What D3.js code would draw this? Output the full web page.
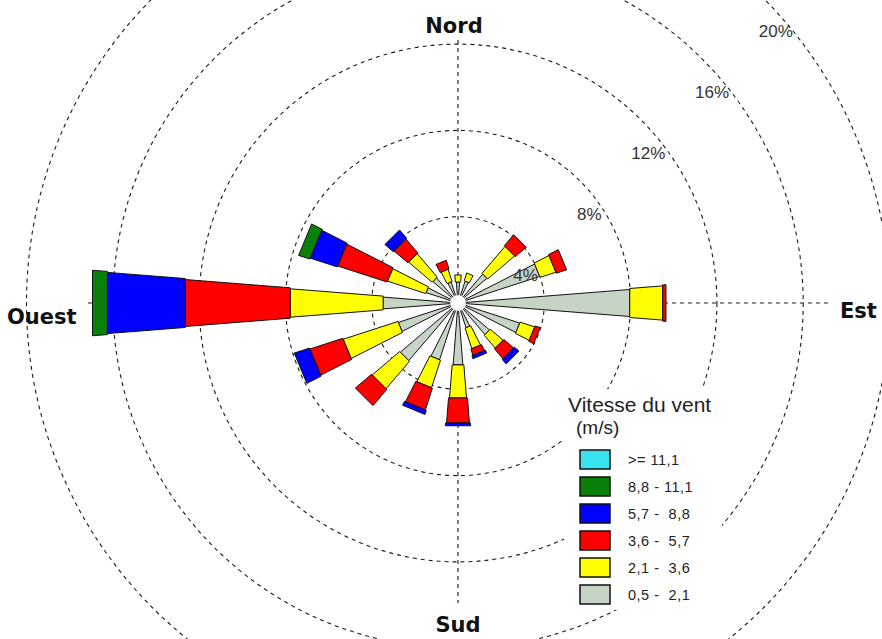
<!DOCTYPE html>
<html>
<head>
<meta charset="utf-8">
<script src="https://cdn.jsdelivr.net/npm/d3@7"></script>
<style>
  html, body { margin: 0; padding: 0; background: #fff; }
  svg { display: block; }
</style>
</head>
<body>
<svg id="rose" width="882" height="639"></svg>
<script>
// Wind directions, clockwise from north
const directions = ["N","NNE","NE","ENE","E","ESE","SE","SSE","S","SSW","SW","WSW","W","WNW","NW","NNW"];

// Frequency (%) per speed class, one value per direction
const speed05to21  = [0.97, 1.06, 1.76, 3.97, 7.96, 3.00, 1.92, 1.20, 2.87, 2.76, 3.50, 2.90, 3.47, 1.55, 1.53, 1.02];
const speed21to36  = [0.33, 0.38, 1.64, 0.77, 1.53, 0.71, 0.78, 1.00, 1.53, 1.34, 1.67, 2.66, 4.31, 1.86, 1.43, 0.60];
const speed36to57  = [0.00, 0.00, 0.66, 0.50, 0.15, 0.25, 0.60, 0.30, 1.16, 1.06, 0.98, 1.60, 4.86, 2.40, 0.84, 0.42];
const speed57to88  = [0.00, 0.00, 0.00, 0.00, 0.00, 0.00, 0.27, 0.15, 0.13, 0.20, 0.00, 0.74, 3.61, 1.31, 0.51, 0.00];
const speed88to111 = [0.00, 0.00, 0.00, 0.00, 0.00, 0.00, 0.00, 0.00, 0.00, 0.00, 0.00, 0.00, 0.69, 0.55, 0.00, 0.00];
const speedOver111 = [0.00, 0.00, 0.00, 0.00, 0.00, 0.00, 0.00, 0.00, 0.00, 0.00, 0.00, 0.00, 0.00, 0.00, 0.00, 0.00];

// Speed classes from calm to strong, with legend labels
const speedLabels = ["0,5 -  2,1", "2,1 -  3,6", "3,6 -  5,7", "5,7 -  8,8", "8,8 - 11,1", ">= 11,1"];
const speedSeries = [speed05to21, speed21to36, speed36to57, speed57to88, speed88to111, speedOver111];
const speedColors = ["#c6d4c6", "#ffff00", "#ff0000", "#0000ff", "#0a800a", "#38e2ee"];

// Ring values (%)
const ringTicks = [4, 8, 12, 16, 20];

// Cardinal labels
const cardinals = [
  { name: "Nord",  x: 454, y: 33 , anchor: "middle" },
  { name: "Est",   x: 840, y: 318, anchor: "start" },
  { name: "Sud",   x: 458, y: 632, anchor: "middle" },
  { name: "Ouest", x: 7,   y: 324, anchor: "start" }
];

const svg = d3.select("#rose");
const cx = 458, cy = 303;

const r = d3.scaleLinear().domain([0, 20]).range([0, 431.5]);
const angle = d3.scaleLinear().domain([0, directions.length]).range([0, 2 * Math.PI]);

// Rings
const grid = svg.append("g").attr("fill", "none").attr("stroke", "#1a1a1a")
  .attr("stroke-width", 1.1).attr("stroke-dasharray", "4,4");
grid.selectAll("circle").data(ringTicks).join("circle")
  .attr("cx", cx).attr("cy", cy).attr("r", d => r(d));

// Axis lines
grid.append("line").attr("x1", cx).attr("x2", cx).attr("y1", 40).attr("y2", 603);
grid.append("line").attr("y1", cy).attr("y2", cy).attr("x1", 88).attr("x2", 832);

// Petals: each class segment widens a little relative to the one inside it
const halfTan = Math.tan(4.5 * Math.PI / 180);
const step = 1.0;
const line = d3.line().curve(d3.curveLinearClosed);

function toXY(theta, rad, off) {
  return [cx + rad * Math.sin(theta) + off * Math.cos(theta),
          cy - rad * Math.cos(theta) + off * Math.sin(theta)];
}

const segments = [];
directions.forEach((dir, i) => {
  let cum = 0;
  speedSeries.forEach((series, k) => {
    const v = series[i];
    if (v > 0) {
      segments.push({ dir: i, k, p0: cum, p1: cum + v });
    }
    cum += v;
  });
});

svg.append("g").selectAll("path").data(segments).join("path")
  .attr("d", s => {
    const th = angle(s.dir);
    const r0 = r(s.p0), r1 = r(s.p1);
    const h0 = r0 * halfTan + (r0 > 0 ? s.k * step : 0);
    const h1 = r1 * halfTan + s.k * step;
    return line([toXY(th, r0, -h0), toXY(th, r1, -h1), toXY(th, r1, h1), toXY(th, r0, h0)]);
  })
  .attr("fill", s => speedColors[s.k])
  .attr("stroke", "#111")
  .attr("stroke-width", 1)
  .attr("stroke-linejoin", "miter");

// Calm circle
svg.append("circle").attr("cx", cx).attr("cy", cy).attr("r", 8)
  .attr("fill", "#fff").attr("stroke", "#aaa").attr("stroke-width", 0.6);

// Ring labels
svg.append("g").selectAll("text").data(ringTicks).join("text")
  .attr("x", d => cx + 16 + 0.739 * r(d))
  .attr("y", d => cy + 33 - 0.707 * r(d))
  .attr("dy", "0.36em")
  .attr("text-anchor", "end")
  .attr("font-family", "Liberation Sans, Arial, sans-serif")
  .attr("font-size", 17)
  .attr("fill", "#333")
  .text(d => d + "%");

// Cardinal labels
svg.append("g").selectAll("text").data(cardinals).join("text")
  .attr("x", d => d.x).attr("y", d => d.y)
  .attr("text-anchor", d => d.anchor)
  .attr("font-family", "DejaVu Sans, Verdana, sans-serif")
  .attr("font-weight", "bold")
  .attr("font-size", 21)
  .attr("fill", "#111")
  .text(d => d.name);

// Legend, on an opaque panel over the rings
const legend = svg.append("g").attr("font-family", "Liberation Sans, Arial, sans-serif").attr("fill", "#222");
legend.append("rect").attr("x", 564).attr("y", 389).attr("width", 158).attr("height", 221)
  .attr("fill", "#fff");
legend.append("text").attr("x", 568).attr("y", 412).attr("font-size", 21).text("Vitesse du vent");
legend.append("text").attr("x", 576).attr("y", 434).attr("font-size", 19).text("(m/s)");

const legendOrder = d3.range(speedLabels.length).reverse();
const rows = legend.selectAll("g.row").data(legendOrder).join("g").attr("class", "row")
  .attr("transform", (k, j) => `translate(580, ${450 + j * 27})`);
rows.append("rect").attr("width", 30).attr("height", 19)
  .attr("fill", k => speedColors[k]).attr("stroke", "#111").attr("stroke-width", 1.5);
rows.append("text").attr("x", 48).attr("y", 15)
  .attr("font-size", 14.5).attr("letter-spacing", 0.5)
  .style("white-space", "pre")
  .text(k => speedLabels[k]);
</script>
</body>
</html>
